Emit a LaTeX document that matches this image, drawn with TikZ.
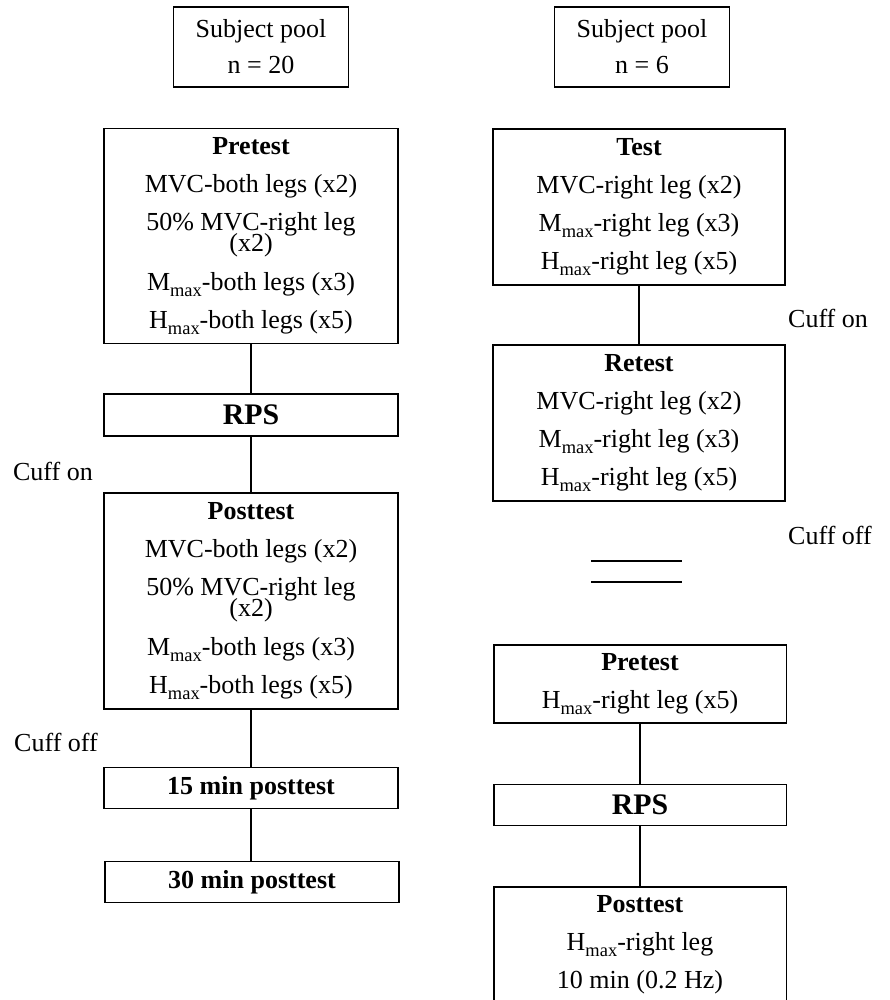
\documentclass[tikz,border=0pt]{standalone}
\usepackage{fontspec}
\setmainfont{Liberation Serif}
\newcommand{\mx}{\raisebox{-0.5ex}{\fontsize{10.5}{10}\selectfont max}}

\begin{document}
\begin{tikzpicture}[x=0.02cm, y=-0.02cm,
  box/.style={draw, line width=1.1pt, align=center, inner sep=0pt,
    minimum width=5.88cm, font=\fontsize{14.8}{21.6}\selectfont},
  pool/.style={box, minimum width=3.5cm, minimum height=1.6cm},
  note/.style={font=\fontsize{14.8}{21.6}\selectfont},
  link/.style={line width=1.1pt}]

\useasboundingbox (0,0) rectangle (889,1000);

% left
\node[pool] (pool1) at (261,47) {Subject pool\\[-1pt]n = 20};

\node[box, minimum height=4.3cm] (pre1) at (251,236) {\textbf{Pretest}\\MVC-both legs (x2)\\50\% MVC-right leg\\[-9.5pt](x2)\\[0.5pt]M\mx-both legs (x3)\\H\mx-both legs (x5)};

\node[box, minimum height=0.84cm, font=\fontsize{17}{20}\selectfont\bfseries] (rps1) at (251,415) {RPS};

\node[note] (cuffon1) at (53,471) {Cuff on};

\node[box, minimum height=4.32cm] (post1) at (251,601) {\textbf{Posttest}\\MVC-both legs (x2)\\50\% MVC-right leg\\[-9.5pt](x2)\\[0.5pt]M\mx-both legs (x3)\\H\mx-both legs (x5)};

\node[note] (cuffoff1) at (56,742) {Cuff off};

\node[box, minimum height=0.82cm, font=\fontsize{14.8}{20}\selectfont\bfseries] (m15) at (251,788) {15 min posttest};
\node[box, minimum height=0.82cm, font=\fontsize{14.8}{20}\selectfont\bfseries] (m30) at (252,882) {30 min posttest};

\draw[link] (pre1) -- (rps1);
\draw[link] (rps1) -- (post1);
\draw[link] (post1) -- (m15);
\draw[link] (m15) -- (m15 |- m30.north);

% right
\node[pool] (pool2) at (642,47) {Subject pool\\[-1pt]n = 6};

\node[box, minimum width=5.84cm, minimum height=3.12cm] (test) at (639,207) {\textbf{Test}\\MVC-right leg (x2)\\M\mx-right leg (x3)\\H\mx-right leg (x5)};

\node[note] (cuffon2) at (828,318) {Cuff on};

\node[box, minimum width=5.84cm, minimum height=3.12cm] (retest) at (639,423) {\textbf{Retest}\\MVC-right leg (x2)\\M\mx-right leg (x3)\\H\mx-right leg (x5)};

\node[note] (cuffoff2) at (830,535) {Cuff off};

% break sign
\draw[link] (591,561) -- (682,561);
\draw[link] (591,582) -- (682,582);

\node[box, minimum width=5.86cm, minimum height=1.56cm] (pre2) at (640,684) {\textbf{Pretest}\\H\mx-right leg (x5)};

\node[box, minimum width=5.86cm, minimum height=0.82cm, font=\fontsize{17}{20}\selectfont\bfseries] (rps2) at (640,805) {RPS};

\node[box, minimum width=5.86cm, minimum height=2.32cm] (post2) at (640,945) {\textbf{Posttest}\\H\mx-right leg\\10 min (0.2 Hz)};

\draw[link] (test) -- (retest);
\draw[link] (pre2) -- (rps2);
\draw[link] (rps2) -- (post2);

\end{tikzpicture}
\end{document}
